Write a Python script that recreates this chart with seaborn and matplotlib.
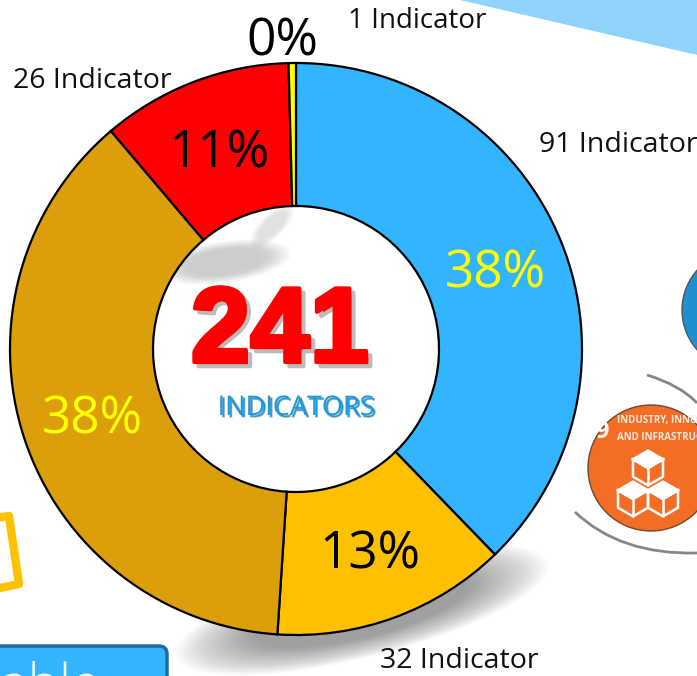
import matplotlib

matplotlib.use("Agg")
import matplotlib.patheffects as pe
import matplotlib.pyplot as plt
import seaborn as sns
from matplotlib.patches import Circle, Ellipse, FancyBboxPatch, PathPatch, Polygon
from matplotlib.path import Path

W, H = 697, 676

indicator_counts = [91, 32, 91, 26, 1]
slice_colors = ["#33B4FF", "#FFC000", "#DA9F0B", "#FF0000", "#FFFF00"]
pct_colors = ["#FFFF00", "#000000", "#FFFF00", "#000000", "#000000"]
count_labels = ["91 Indicator", "32 Indicator", "26 Indicator", "1 Indicator"]
total_label = "241"
unit_label = "INDICATORS"

sns.set_theme(style="white")
plt.rcParams["font.family"] = ["Open Sans", "DejaVu Sans"]


def soft_ellipse(ax, x, y, w, h, angle, color="#555555", steps=30, alpha=0.02, shrink=0.45):
    for i in range(steps):
        k = 1 - i / steps * shrink
        ax.add_patch(Ellipse((x, y), w * k, h * k, angle=angle, fc=color, ec="none", alpha=alpha))


def draw_curve(ax, start, ctrl, end):
    path = Path([start, ctrl, end], [Path.MOVETO, Path.CURVE3, Path.CURVE3])
    ax.add_patch(PathPatch(path, fc="none", ec="#555555", lw=2, alpha=0.7))


def draw_cube(ax, cx, cy, s=15, lw=1.8):
    h = s * 0.58
    top = [(cx, cy - 2 * h), (cx + s, cy - h), (cx, cy), (cx - s, cy - h)]
    ax.add_patch(Polygon(top, fc="white", ec="white", lw=lw))
    outline = [(cx - s, cy - h), (cx, cy), (cx + s, cy - h), (cx + s, cy + h), (cx, cy + 2 * h), (cx - s, cy + h)]
    ax.add_patch(Polygon(outline, fc="none", ec="white", lw=lw))
    ax.plot([cx, cx], [cy, cy + 2 * h], color="white", lw=lw)


fig = plt.figure(figsize=(W / 100, H / 100), dpi=100, facecolor="white")

# background layer in pixel coordinates
bg = fig.add_axes([0, 0, 1, 1], zorder=0)
bg.set_xlim(0, W)
bg.set_ylim(H, 0)
bg.axis("off")

bg.add_patch(Polygon([(460, 0), (697, 55), (697, 0)], fc="#8FD3FB", ec="none"))
soft_ellipse(bg, 362, 610, 385, 95, -14, color="#444444")
soft_ellipse(bg, 225, 262, 135, 42, -8, color="#999999", alpha=0.014)
soft_ellipse(bg, 272, 226, 60, 24, -45, color="#BBBBBB", alpha=0.01)

# yellow frame, cut by the left edge
bg.plot([-5, 9, 19, -5], [518, 516, 584, 589], color="#FFC000", lw=6, solid_joinstyle="round")

# button
bg.add_patch(FancyBboxPatch((-30, 646), 197, 60, boxstyle="round,pad=0,rounding_size=8",
                            fc="#33B4FF", ec="#1F6A9A", lw=2.5))
bg.text(-12, 701, "lable", color="white", fontsize=38, fontweight="light", va="baseline", ha="left")

# right side decoration
bg.add_patch(Circle((742, 310), 60, fc="#1E8FD0", ec="#555555", lw=1))
draw_curve(bg, (647, 375), (680, 385), (697, 403))
draw_curve(bg, (575, 512), (620, 555), (697, 553))
badge = Circle((651, 468), 63, fc="#F36D25", ec="#6B4A35", lw=1)
bg.add_patch(badge)
for y, line in [(420, "INDUSTRY, INNOVATION"), (437, "AND INFRASTRUCTURE")]:
    t = bg.text(617, y, line, color="#FFE9DC", fontsize=7, va="center", ha="left", fontweight="bold")
    t.set_clip_path(badge)
t = bg.text(602, 432, "9", color="white", fontsize=17, fontweight="bold", va="center", ha="center")
t.set_clip_path(badge)
draw_cube(bg, 648, 468)
draw_cube(bg, 633, 499)
draw_cube(bg, 663, 499)

# donut, centre (296, 349) radius 286 px
cx, cy, r = 296, 349, 286
ax = fig.add_axes([(cx - r) / W, 1 - (cy + r) / H, 2 * r / W, 2 * r / H], zorder=1)
ax.patch.set_alpha(0)
wedges, _, autotexts = ax.pie(
    indicator_counts,
    colors=slice_colors,
    startangle=90,
    counterclock=False,
    radius=1,
    autopct="%.0f%%",
    pctdistance=0.75,
    wedgeprops={"width": 0.5, "edgecolor": "black", "linewidth": 1.6},
    textprops={"fontsize": 37},
)
ax.set_xlim(-1, 1)
ax.set_ylim(-1, 1)
for w in wedges:
    w.set_clip_on(False)
for txt, col in zip(autotexts, pct_colors):
    txt.set_color(col)
    txt.set_clip_on(False)
    x, y = txt.get_position()
    txt.set_position((x, y - 0.018))
autotexts[2].set_position((-0.713, -0.25))
autotexts[4].set_position((-0.047, 1.073))


# top text layer
def px_text(x, y, s, **kw):
    return fig.text(x / W, 1 - y / H, s, ha="center", va="center", zorder=3, **kw)


px_text(618, 145, count_labels[0], fontsize=20.5, color="#111111")
px_text(459, 661, count_labels[1], fontsize=20.5, color="#111111")
px_text(92, 81, count_labels[2], fontsize=20.5, color="#111111")
px_text(417, 21, count_labels[3], fontsize=20, color="#111111")

px_text(280, 334, total_label, fontsize=77, fontweight="bold", color="#FF0000",
        family=["Liberation Sans", "DejaVu Sans"],
        path_effects=[pe.Stroke(linewidth=3, foreground="#BBBBBB", offset=(3, -3)),
                      pe.Stroke(linewidth=3, foreground="#FF0000"), pe.Normal()])
px_text(296, 408, unit_label, fontsize=19.5, color="#1C9ADF",
        path_effects=[pe.Stroke(linewidth=0.5, foreground="#AAAAAA", offset=(1.5, -1.5)), pe.Normal()])

fig.savefig("out.png", dpi=100)
plt.close(fig)
